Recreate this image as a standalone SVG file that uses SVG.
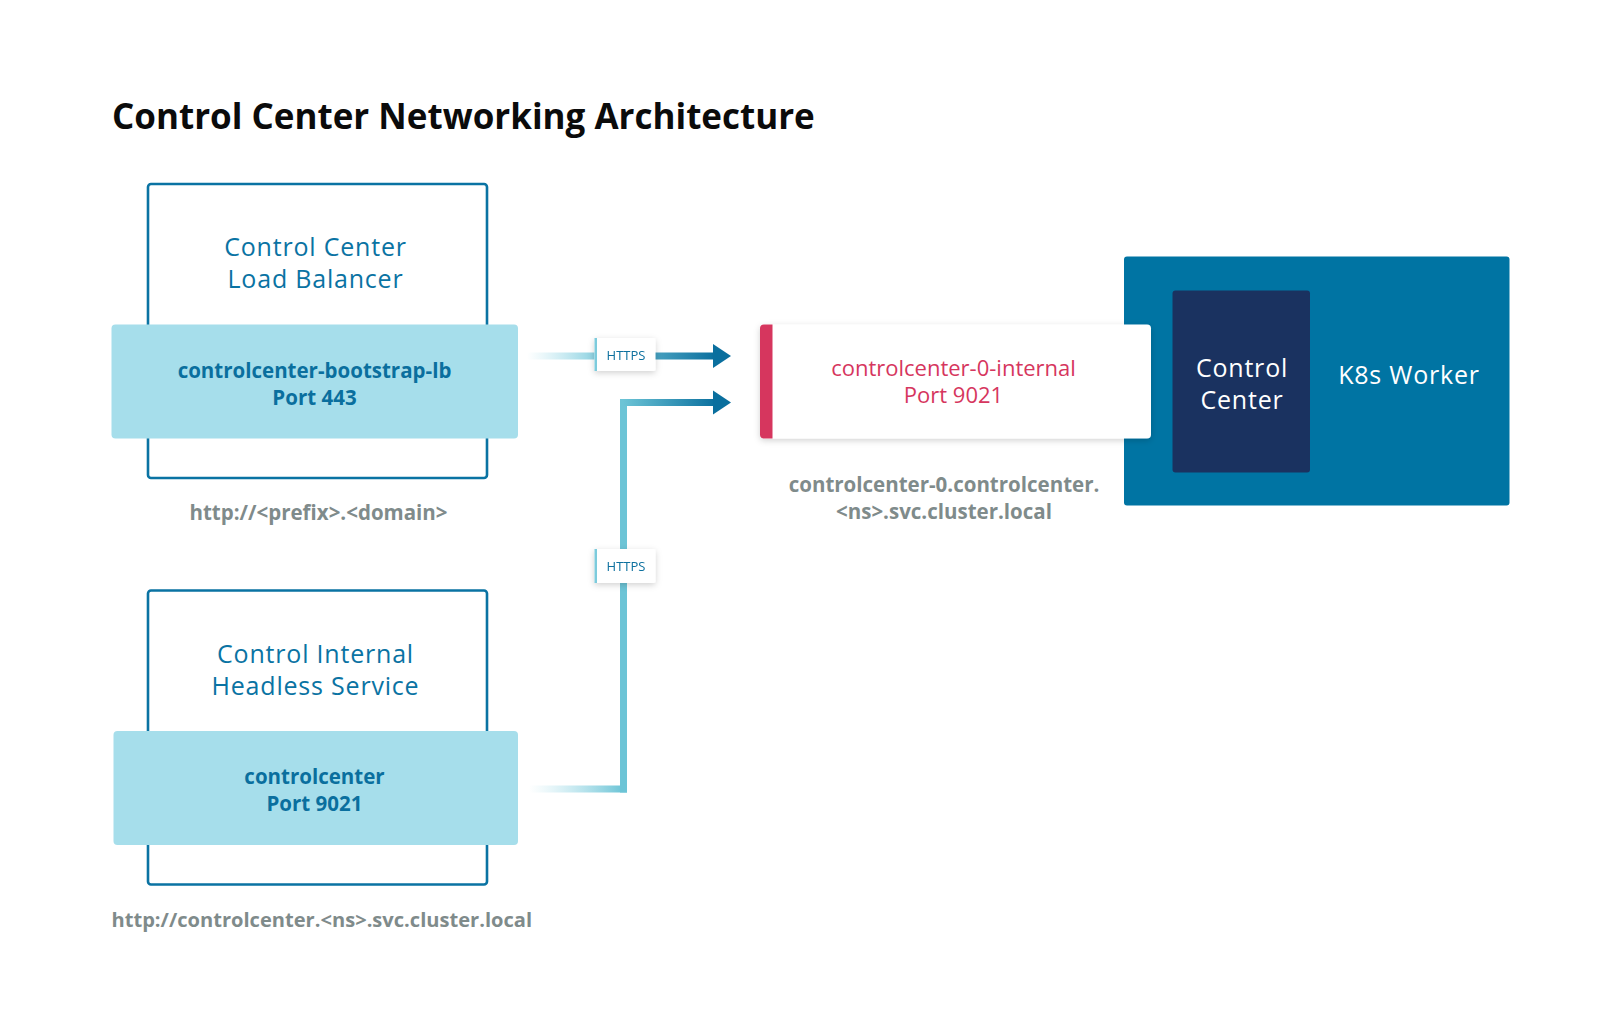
<svg xmlns="http://www.w3.org/2000/svg" width="1621" height="1024" viewBox="0 0 1621 1024">
<defs>
<style>
.t{font-family:"Open Sans","Noto Sans","Liberation Sans",sans-serif;}
.title{font-size:35px;font-weight:700;fill:#0b0b0b;}
.box{fill:#fff;stroke:#0a73a3;stroke-width:2.6;}
.band{fill:#a6deeb;}
.h{font-size:25px;font-weight:500;letter-spacing:0.8px;fill:#0a73a3;text-anchor:middle;}
.b{font-size:20.5px;font-weight:700;fill:#0a6f9e;text-anchor:middle;}
.g{font-size:20.5px;font-weight:700;fill:#7f8b8b;}
.r{font-size:22px;font-weight:500;fill:#d6365e;text-anchor:middle;}
.w{font-size:25px;font-weight:500;letter-spacing:0.8px;fill:#fff;text-anchor:middle;}
.lbl{font-size:13px;fill:#0a6f9e;text-anchor:middle;}
</style>
<linearGradient id="g1" x1="527" y1="0" x2="716" y2="0" gradientUnits="userSpaceOnUse">
<stop offset="0" stop-color="#a6deeb" stop-opacity="0"/>
<stop offset="0.4" stop-color="#7ccbdc"/>
<stop offset="1" stop-color="#0a6f9e"/>
</linearGradient>
<linearGradient id="g2" x1="529" y1="0" x2="623" y2="0" gradientUnits="userSpaceOnUse">
<stop offset="0" stop-color="#a6deeb" stop-opacity="0"/>
<stop offset="1" stop-color="#6cc4d6"/>
</linearGradient>
<linearGradient id="g3" x1="623" y1="0" x2="716" y2="0" gradientUnits="userSpaceOnUse">
<stop offset="0" stop-color="#6cc4d6"/>
<stop offset="1" stop-color="#0a6f9e"/>
</linearGradient>
<filter id="sh" x="-20%" y="-30%" width="140%" height="170%">
<feDropShadow dx="0" dy="2" stdDeviation="3" flood-color="#000" flood-opacity="0.18"/>
</filter>
</defs>
<rect width="1621" height="1024" fill="#fff"/>
<text class="t title" x="112" y="129">Control Center Networking Architecture</text>

<g id="connectors">
<rect x="527" y="352.5" width="188" height="7" fill="url(#g1)"/>
<polygon points="713,344 731,356 713,368" fill="#0a6f9e"/>
<rect x="529" y="785.5" width="98" height="7" fill="url(#g2)"/>
<rect x="620" y="399" width="7" height="393.5" fill="#6cc4d6"/>
<rect x="620" y="399" width="95" height="7" fill="url(#g3)"/>
<polygon points="713,390.5 731,402.5 713,414.5" fill="#0a6f9e"/>
<g id="https1" filter="url(#sh)">
<rect x="594.5" y="338" width="61" height="33" rx="2" fill="#fff"/>
<rect x="594.5" y="338" width="2.5" height="33" fill="#7ccbdc"/>
<text class="t lbl" x="626" y="359.5">HTTPS</text>
</g>
<g id="https2" filter="url(#sh)">
<rect x="594.5" y="549" width="61" height="34" rx="2" fill="#fff"/>
<rect x="594.5" y="549" width="2.5" height="34" fill="#7ccbdc"/>
<text class="t lbl" x="626" y="571">HTTPS</text>
</g>
</g>

<g id="lb">
<rect class="box" x="148" y="184" width="339" height="294" rx="3"/>
<text class="t h" x="315.5" y="256">Control Center<tspan x="315.5" dy="32">Load Balancer</tspan></text>
<rect class="band" x="111.5" y="324.5" width="406.5" height="114" rx="4"/>
<text class="t b" x="314.5" y="377.5">controlcenter-bootstrap-lb<tspan x="314.5" dy="27">Port 443</tspan></text>
<text class="t g" x="318.5" y="520" text-anchor="middle">http://&lt;prefix&gt;.&lt;domain&gt;</text>
</g>

<g id="headless">
<rect class="box" x="148" y="590.5" width="339" height="294" rx="3"/>
<text class="t h" x="315.5" y="662.5">Control Internal<tspan x="315.5" dy="32">Headless Service</tspan></text>
<rect class="band" x="113.5" y="731" width="404.5" height="114" rx="4"/>
<text class="t b" x="314.5" y="784">controlcenter<tspan x="314.5" dy="27">Port 9021</tspan></text>
<text class="t g" x="111.5" y="926.5" style="font-size:20.1px">http://controlcenter.&lt;ns&gt;.svc.cluster.local</text>
</g>

<g id="k8s">
<rect x="1124" y="256.5" width="385.5" height="249" rx="3" fill="#0074a3"/>
<rect x="1172.5" y="290.5" width="137.5" height="182" rx="3" fill="#1a3260"/>
<text class="t w" x="1242" y="377">Control<tspan x="1242" dy="32">Center</tspan></text>
<text class="t w" x="1409" y="384">K8s Worker</text>
</g>

<g id="internal">
<g filter="url(#sh)">
<rect x="760" y="324.5" width="391" height="114" rx="4" fill="#fff"/>
</g>
<path d="M764,324.5 H772.5 V438.5 H764 A4,4 0 0 1 760,434.5 V328.5 A4,4 0 0 1 764,324.5 Z" fill="#d6365e"/>
<text class="t r" x="953.5" y="376">controlcenter-0-internal<tspan x="953.5" dy="27">Port 9021</tspan></text>
<text class="t g" x="944" y="492" text-anchor="middle">controlcenter-0.controlcenter.<tspan x="944" dy="27">&lt;ns&gt;.svc.cluster.local</tspan></text>
</g>
</svg>
